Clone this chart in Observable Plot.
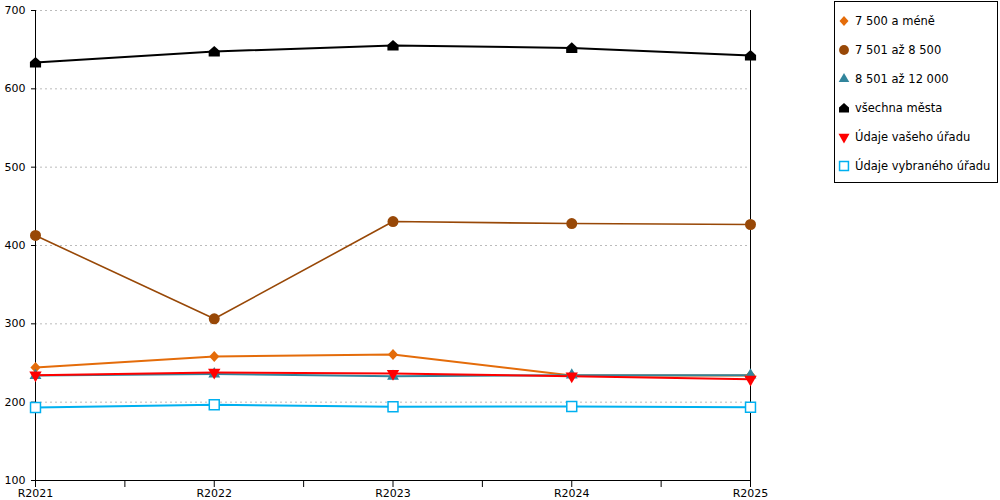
<!DOCTYPE html>
<html>
<head>
<meta charset="utf-8">
<script src="https://cdn.jsdelivr.net/npm/d3@7"></script>
<script src="https://cdn.jsdelivr.net/npm/@observablehq/plot@0.6"></script>
<style>
  body { margin: 0; background: #fff; font-family: "DejaVu Sans", Verdana, sans-serif; }
  #wrap { position: relative; width: 1000px; height: 500px; }
  #legend { position: absolute; left: 834px; top: 1px; width: 164px; height: 182px; border: 1px solid #000; box-sizing: border-box; background: #fff; }
  .item { position: absolute; left: 0; height: 20px; display: flex; align-items: center; font-size: 11.5px; color: #000; white-space: nowrap; }
  .item svg { margin-left: 2px; margin-right: 4px; }
</style>
</head>
<body>
<div id="wrap"><div id="chart"></div><div id="legend"></div></div>
<script>
const years = [2021, 2022, 2023, 2024, 2025];
const seriesNames = ["7 500 a méně", "7 501 až 8 500", "8 501 až 12 000", "všechna města", "Údaje vašeho úřadu", "Údaje vybraného úřadu"];
const v7500 = [244.3, 258.3, 260.9, 234.0, 234.0];
const v8500 = [412.8, 306.4, 430.6, 428.0, 426.8];
const v12000 = [234.0, 236.0, 233.0, 234.5, 234.5];
const vAll = [633.6, 647.7, 655.3, 652.2, 642.6];
const vVas = [234.5, 238.0, 236.6, 233.2, 229.2];
const vVyb = [193.2, 196.8, 194.1, 194.5, 193.6];
const yTicks = [100, 200, 300, 400, 500, 600, 700];

const colors = ["#E46C0A", "#984807", "#31859C", "#000000", "#FF0000", "#00B0F0"];

const house = {
  draw(ctx, size) {
    const s = Math.sqrt(size) / 2;
    ctx.moveTo(0, -1.05 * s);
    ctx.lineTo(1.05 * s, -0.1 * s);
    ctx.lineTo(1.05 * s, 0.95 * s);
    ctx.lineTo(-1.05 * s, 0.95 * s);
    ctx.lineTo(-1.05 * s, -0.1 * s);
    ctx.closePath();
  }
};
const diamond = {
  draw(ctx, size) {
    const s = Math.sqrt(size) / 2;
    ctx.moveTo(0, -1.05 * s);
    ctx.lineTo(0.95 * s, 0);
    ctx.lineTo(0, 1.05 * s);
    ctx.lineTo(-0.95 * s, 0);
    ctx.closePath();
  }
};

const styles = [
  {symbol: diamond, fill: colors[0], stroke: "none", r: 6, rotate: 0, sw: 2},
  {symbol: d3.symbolCircle, fill: colors[1], stroke: "none", r: 5.5, rotate: 0, sw: 1.6},
  {symbol: d3.symbolTriangle, fill: colors[2], stroke: "none", r: 4.4, rotate: 0, sw: 2},
  {symbol: house, fill: colors[3], stroke: "none", r: 6, rotate: 0, sw: 2},
  {symbol: d3.symbolTriangle, fill: colors[4], stroke: "none", r: 4.6, rotate: 180, sw: 2},
  {symbol: d3.symbolSquare, fill: "white", stroke: colors[5], r: 5.6, rotate: 0, sw: 2}
];

const allValues = [v7500, v8500, v12000, vAll, vVas, vVyb];
const rows = [];
allValues.forEach((vals, si) => vals.forEach((v, i) => rows.push({series: si, year: years[i], value: v})));

const minor = years.slice(0, -1).map((y, i) => (y + years[i + 1]) / 2);

const marks = [
  Plot.gridY(yTicks, {stroke: "#bbb", strokeOpacity: 1, strokeDasharray: "2,3"}),
  Plot.ruleX([years[0]], {stroke: "#000"}),
  Plot.ruleX([years[years.length - 1]], {stroke: "#000"}),
  Plot.ruleY([yTicks[0]], {stroke: "#000"}),
  Plot.axisY(yTicks, {tickSize: 4, tickPadding: 6, fontSize: 11, label: null, tickFormat: d => String(d)}),
  Plot.axisX(years, {tickSize: 7, tickPadding: 2, fontSize: 11, label: null, tickFormat: d => "R" + d}),
  Plot.axisX(minor, {tickSize: 7, label: null, tickFormat: () => ""})
];
styles.forEach((st, si) => {
  const data = rows.filter(d => d.series === si);
  marks.push(Plot.line(data, {x: "year", y: "value", stroke: colors[si], strokeWidth: st.sw}));
});
styles.forEach((st, si) => {
  const data = rows.filter(d => d.series === si);
  marks.push(Plot.dot(data, {x: "year", y: "value", symbol: () => st.symbol, r: st.r, fill: st.fill, stroke: st.stroke, strokeWidth: 1.5, rotate: st.rotate}));
});

const chart = Plot.plot({
  width: 1000,
  height: 500,
  marginLeft: 35,
  marginRight: 250,
  marginTop: 10,
  marginBottom: 20,
  style: {fontFamily: "DejaVu Sans, Verdana, sans-serif", color: "#000", background: "#fff"},
  x: {type: "linear", domain: [years[0], years[years.length - 1]], label: null},
  y: {type: "linear", domain: [yTicks[0], yTicks[yTicks.length - 1]], label: null},
  symbol: {type: "identity"},
  marks
});
document.getElementById("chart").appendChild(chart);

const legend = document.getElementById("legend");
const tops = [9, 38, 67, 96, 125, 154];
seriesNames.forEach((name, i) => {
  const st = styles[i];
  const item = document.createElement("div");
  item.className = "item";
  item.style.top = tops[i] + "px";
  const path = d3.symbol(st.symbol, Math.PI * st.r * st.r * 0.8)();
  const svg = d3.create("svg").attr("width", 14).attr("height", 16);
  svg.append("path").attr("d", path)
    .attr("transform", `translate(7,8) rotate(${st.rotate})`)
    .attr("fill", st.fill).attr("stroke", st.stroke).attr("stroke-width", 1.5);
  item.appendChild(svg.node());
  const span = document.createElement("span");
  span.textContent = name;
  item.appendChild(span);
  legend.appendChild(item);
});
</script>
</body>
</html>
